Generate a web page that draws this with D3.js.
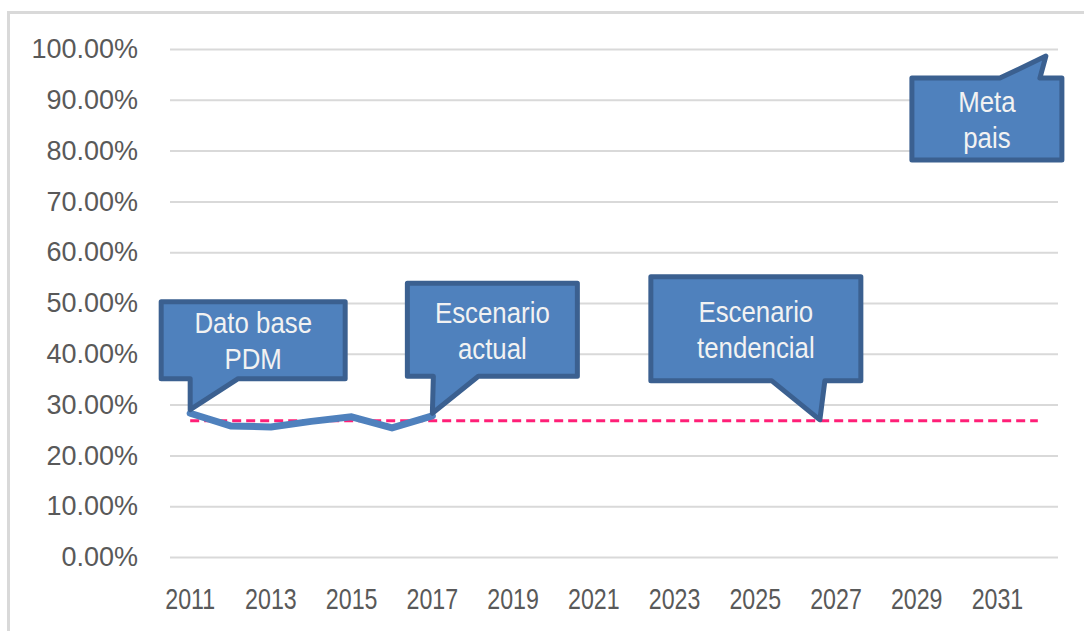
<!DOCTYPE html>
<html>
<head>
<meta charset="utf-8">
<script src="https://cdn.jsdelivr.net/npm/d3@7"></script>
<style>
  body { margin: 0; background: #fff; }
  text { font-family: "Liberation Sans", Arial, sans-serif; }
</style>
</head>
<body>
<svg id="chart" width="1084" height="631"></svg>
<script>
// datos
var years = d3.range(2011, 2033);
var xTickYears = [2011, 2013, 2015, 2017, 2019, 2021, 2023, 2025, 2027, 2029, 2031];
var yTicks = [0, 0.1, 0.2, 0.3, 0.4, 0.5, 0.6, 0.7, 0.8, 0.9, 1];

var actualYears = [2011, 2012, 2013, 2014, 2015, 2016, 2017];
var actualValues = [0.283, 0.258, 0.256, 0.267, 0.276, 0.254, 0.278];

var trendYears = [2011, 2032];
var trendValues = [0.268, 0.268];

var calloutLabels = [["Dato base", "PDM"], ["Escenario", "actual"], ["Escenario", "tendencial"], ["Meta", "pais"]];
var calloutYears = [2011, 2017, 2026.6, 2032.2];
var calloutValues = [0.29, 0.283, 0.27, 0.986];

// cajas de los globos, relativas a la punta
var boxes = [
  {dx: -29, dy: -108, w: 184, h: 77, p0: 29, p1: 77, side: "bottom"},
  {dx: -25, dy: -130, w: 170, h: 93, p0: 26, p1: 71, side: "bottom"},
  {dx: -169, dy: -143, w: 210, h: 104, p0: 121, p1: 174, side: "bottom"},
  {dx: -134, dy: 22, w: 150, h: 82, p0: 88, p1: 128, side: "top"}
];

var svg = d3.select("#chart");

var x = d3.scaleBand().domain(years).range([170, 1058]);
var y = d3.scaleLinear().domain([0, 1]).range([557, 49]);

function xc(yr) {
  return x(2011) + x.bandwidth() / 2 + (yr - 2011) * x.step();
}

/* marco */
svg.append("path")
    .attr("d", "M8.5,631V12.5H1084")
    .attr("fill", "none")
    .attr("stroke", "#d9d9d9")
    .attr("stroke-width", 3);

/* eje y con lineas de cuadricula */
var yAxis = svg.append("g")
    .attr("transform", "translate(170,0)")
    .call(d3.axisLeft(y).tickValues(yTicks).tickSize(-888).tickPadding(32).tickFormat(d3.format(".2%")));
yAxis.select(".domain").remove();
yAxis.selectAll(".tick line").attr("stroke", "#d9d9d9").attr("stroke-width", 2);
yAxis.selectAll(".tick text")
    .attr("fill", "#595959")
    .style("font-size", "27px");

/* eje x */
var xAxis = svg.append("g")
    .attr("transform", "translate(0,557)")
    .call(d3.axisBottom(x).tickValues(xTickYears).tickSize(0).tickPadding(31));
xAxis.select(".domain").remove();
xAxis.selectAll(".tick text")
    .attr("fill", "#595959")
    .attr("transform", "scale(0.8,1)")
    .style("font-size", "29px");

/* lineas */
var line = d3.line()
    .x(function(d) { return xc(d[0]); })
    .y(function(d) { return y(d[1]); });

svg.append("path")
    .datum(d3.zip(trendYears, trendValues))
    .attr("d", line)
    .attr("fill", "none")
    .attr("stroke", "#ff1f77")
    .attr("stroke-width", 3)
    .attr("stroke-dasharray", "9,5");

svg.append("path")
    .datum(d3.zip(actualYears, actualValues))
    .attr("d", line)
    .attr("fill", "none")
    .attr("stroke", "#4f81bd")
    .attr("stroke-width", 7)
    .attr("stroke-linejoin", "round")
    .attr("stroke-linecap", "round");

/* globos */
calloutLabels.forEach(function(lines, i) {
  var tx = xc(calloutYears[i]), ty = y(calloutValues[i]);
  var b = boxes[i];
  var l = tx + b.dx, t = ty + b.dy, r = l + b.w, btm = t + b.h;
  var d;
  if (b.side === "bottom") {
    d = "M" + l + "," + t + "H" + r + "V" + btm + "H" + (l + b.p1) +
        "L" + tx + "," + ty + "L" + (l + b.p0) + "," + btm + "H" + l + "Z";
  } else {
    d = "M" + l + "," + t + "H" + (l + b.p0) + "L" + tx + "," + ty +
        "L" + (l + b.p1) + "," + t + "H" + r + "V" + btm + "H" + l + "Z";
  }
  svg.append("path")
      .attr("d", d)
      .attr("fill", "#4f81bd")
      .attr("stroke", "#3b6090")
      .attr("stroke-width", 5)
      .attr("stroke-linejoin", "round");

  var cx = l + b.w / 2, cy = t + b.h / 2;
  lines.forEach(function(s, j) {
    svg.append("text")
        .attr("transform", "translate(" + cx + "," + (cy - 7 + j * 36) + ") scale(0.89,1)")
        .attr("text-anchor", "middle")
        .attr("fill", "#f2f2f2")
        .style("font-size", "29px")
        .text(s);
  });
});
</script>
</body>
</html>
